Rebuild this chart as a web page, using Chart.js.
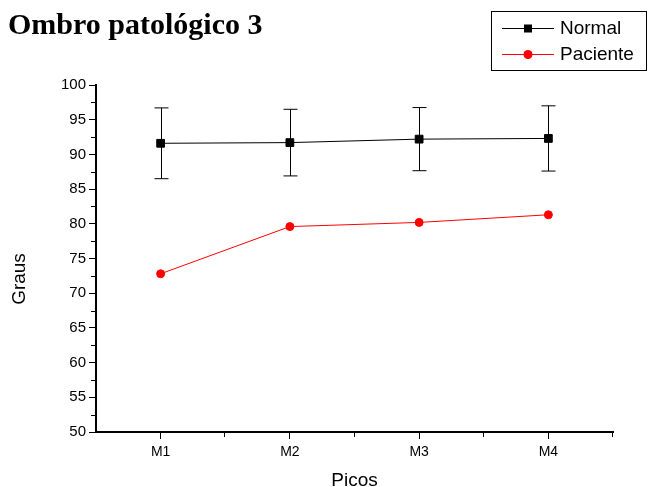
<!DOCTYPE html>
<html>
<head>
<meta charset="utf-8">
<script src="https://cdn.jsdelivr.net/npm/chart.js@4.4.0/dist/chart.umd.min.js"></script>
<style>
  html, body { margin: 0; padding: 0; background: #fff; }
  #wrap { position: relative; width: 649px; height: 487px; }
</style>
</head>
<body>
<div id="wrap"><canvas id="chart" width="649" height="487"></canvas></div>
<script>
// ===== data =====
const categories = ["M1", "M2", "M3", "M4"];
const normalValues = [91.6, 91.7, 92.2, 92.3];
const normalErrors = [5.1, 4.8, 4.55, 4.7];
const pacienteValues = [72.8, 79.6, 80.2, 81.3];
const yMin = 50;
const yMax = 100;
const yStep = 5;

const FONT = "Arial, 'Liberation Sans', sans-serif";

// ===== extra drawing: error bars, minor ticks, title, legend =====
const extrasPlugin = {
  id: "extras",
  beforeDatasetsDraw(chart) {
    const ctx = chart.ctx;
    const y = chart.scales.y;
    const meta = chart.getDatasetMeta(0);
    ctx.save();
    ctx.strokeStyle = "#000";
    ctx.lineWidth = 1;
    normalValues.forEach((v, i) => {
      const x = Math.round(meta.data[i].x) + 0.5;
      const top = y.getPixelForValue(v + normalErrors[i]);
      const bot = y.getPixelForValue(v - normalErrors[i]);
      ctx.beginPath();
      ctx.moveTo(x, top);
      ctx.lineTo(x, bot);
      ctx.moveTo(x - 7, top);
      ctx.lineTo(x + 7, top);
      ctx.moveTo(x - 7, bot);
      ctx.lineTo(x + 7, bot);
      ctx.stroke();
    });
    ctx.restore();
  },
  afterDraw(chart) {
    const ctx = chart.ctx;
    const area = chart.chartArea;
    const xs = chart.scales.x;
    const ys = chart.scales.y;
    ctx.save();
    ctx.strokeStyle = "#000";
    ctx.lineWidth = 1;

    // minor ticks
    ctx.beginPath();
    for (let v = yMin + yStep / 2; v < yMax; v += yStep) {
      const py = Math.round(ys.getPixelForValue(v)) + 0.5;
      ctx.moveTo(area.left - 5, py);
      ctx.lineTo(area.left, py);
    }
    for (let i = 0.5; i <= categories.length - 0.5; i += 1) {
      const px = Math.round(xs.getPixelForValue(i)) - 0.5;
      ctx.moveTo(px, area.bottom);
      ctx.lineTo(px, area.bottom + 5);
    }
    ctx.stroke();

    // title
    ctx.fillStyle = "#000";
    ctx.font = "bold 30px 'Liberation Serif', 'Times New Roman', serif";
    ctx.textAlign = "left";
    ctx.textBaseline = "alphabetic";
    ctx.fillText("Ombro patológico 3", 8, 34);

    // y axis title
    ctx.save();
    ctx.translate(20, 279);
    ctx.rotate(-Math.PI / 2);
    ctx.font = "19px " + FONT;
    ctx.textAlign = "center";
    ctx.textBaseline = "middle";
    ctx.fillText("Graus", 0, 0);
    ctx.restore();

    // legend
    ctx.strokeRect(491.5, 11.5, 155, 59);
    const rows = [
      { label: "Normal", color: "#000", shape: "rect", y: 28 },
      { label: "Paciente", color: "#ff0000", shape: "circle", y: 54 },
    ];
    rows.forEach((r) => {
      ctx.strokeStyle = r.color;
      ctx.fillStyle = r.color;
      ctx.beginPath();
      ctx.moveTo(502, r.y + 0.5);
      ctx.lineTo(554, r.y + 0.5);
      ctx.stroke();
      if (r.shape === "rect") {
        ctx.fillRect(524, r.y - 3.5, 8, 8);
      } else {
        ctx.beginPath();
        ctx.arc(528, r.y + 0.5, 4.5, 0, Math.PI * 2);
        ctx.fill();
      }
      ctx.fillStyle = "#000";
      ctx.font = "19px " + FONT;
      ctx.textAlign = "left";
      ctx.textBaseline = "middle";
      ctx.fillText(r.label, 560, r.y + 1);
    });
    ctx.restore();
  },
};

new Chart(document.getElementById("chart"), {
  type: "line",
  data: {
    labels: categories,
    datasets: [
      {
        label: "Normal",
        data: normalValues,
        borderColor: "#000",
        backgroundColor: "#000",
        borderWidth: 1,
        pointStyle: "rect",
        pointRadius: 5.5,
        pointBorderWidth: 1,
        tension: 0,
      },
      {
        label: "Paciente",
        data: pacienteValues,
        borderColor: "#ff0000",
        backgroundColor: "#ff0000",
        borderWidth: 1,
        pointStyle: "circle",
        pointRadius: 4,
        pointBorderWidth: 1,
        tension: 0,
      },
    ],
  },
  options: {
    responsive: false,
    animation: false,
    layout: { padding: { top: 85, right: 36, left: 0, bottom: 0 } },
    plugins: {
      legend: { display: false },
      tooltip: { enabled: false },
    },
    scales: {
      x: {
        offset: true,
        afterFit: (scale) => { scale.height = 55; },
        grid: {
          drawOnChartArea: false,
          tickLength: 7,
          tickColor: "#000",
          tickWidth: 1,
        },
        border: { color: "#000", width: 2 },
        ticks: { color: "#000", font: { family: FONT, size: 14 }, padding: 5 },
        title: {
          display: true,
          text: "Picos",
          color: "#000",
          font: { family: FONT, size: 19, lineHeight: 0.7 },
          padding: { top: 0, bottom: 0 },
        },
      },
      y: {
        min: yMin,
        max: yMax,
        afterFit: (scale) => { scale.width = 96; },
        ticks: { stepSize: yStep, color: "#000", font: { family: FONT, size: 15 }, padding: 3 },
        grid: {
          drawOnChartArea: false,
          tickLength: 7,
          tickColor: "#000",
          tickWidth: 1,
        },
        border: { color: "#000", width: 2 },
      },
    },
  },
  plugins: [extrasPlugin],
});
</script>
</body>
</html>
